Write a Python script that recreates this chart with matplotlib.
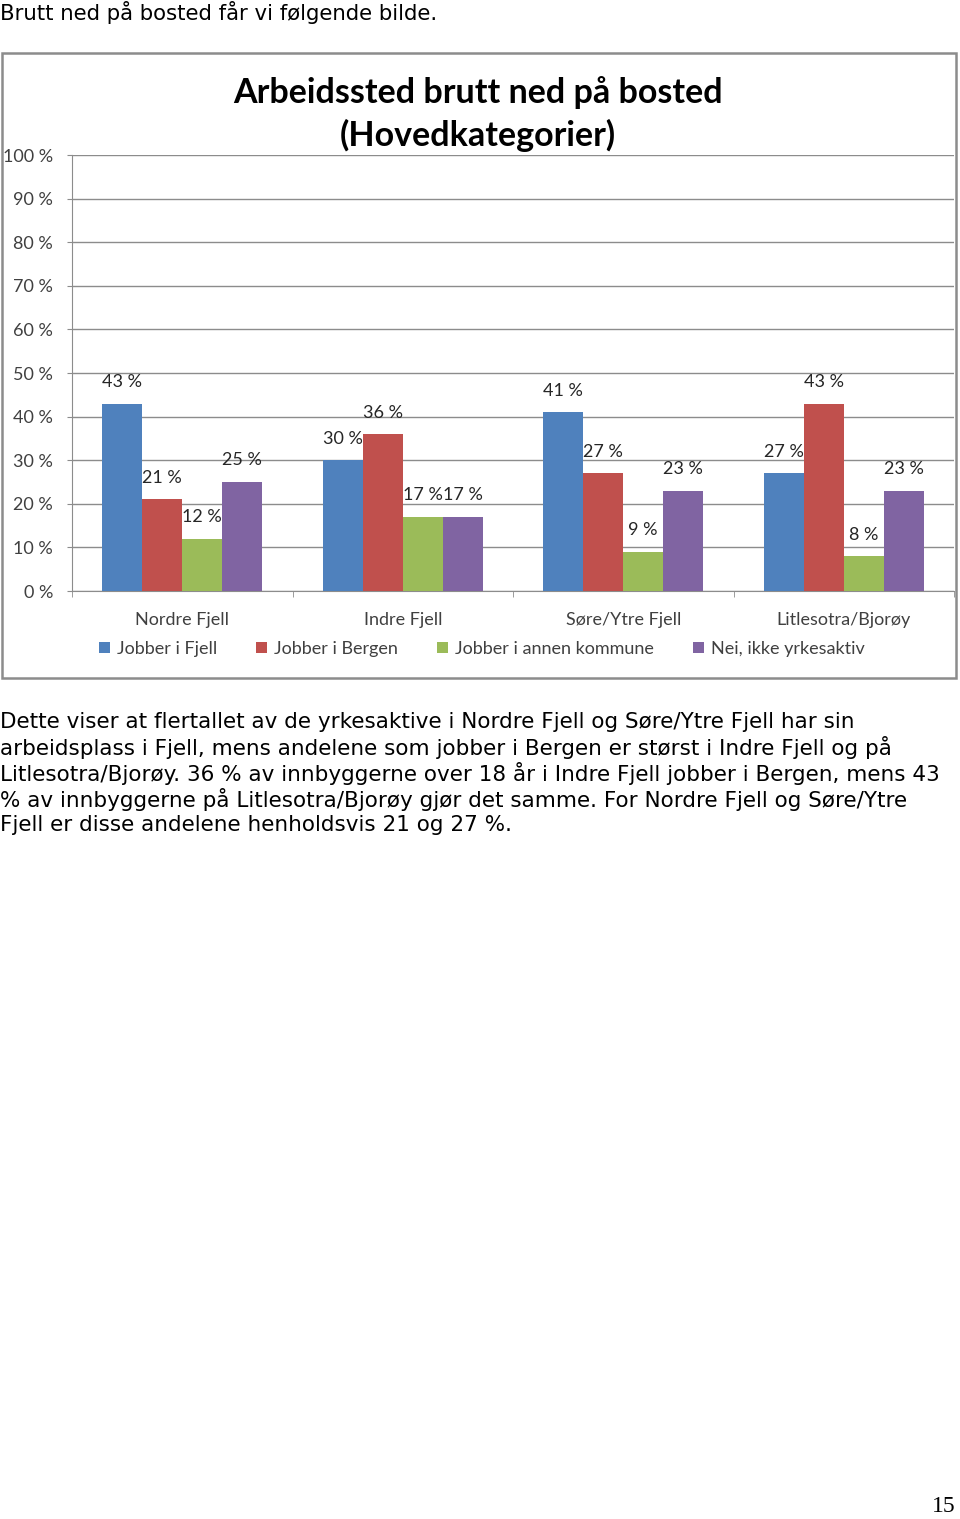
import matplotlib
matplotlib.use("Agg")
import matplotlib.pyplot as plt
from matplotlib.patches import Rectangle, Patch

W, H = 960, 1519
DPI = 100

categories = ["Nordre Fjell", "Indre Fjell", "Søre/Ytre Fjell", "Litlesotra/Bjorøy"]
series_names = ["Jobber i Fjell", "Jobber i Bergen", "Jobber i annen kommune", "Nei, ikke yrkesaktiv"]
jobber_fjell = [43, 30, 41, 27]
jobber_bergen = [21, 36, 27, 43]
jobber_annen = [12, 17, 9, 8]
ikke_yrkesaktiv = [25, 17, 23, 23]
series_values = [jobber_fjell, jobber_bergen, jobber_annen, ikke_yrkesaktiv]
colors = ["#4F81BD", "#C0504D", "#9BBB59", "#8064A2"]
yticks = [0, 10, 20, 30, 40, 50, 60, 70, 80, 90, 100]

title_lines = ["Arbeidssted brutt ned på bosted", "(Hovedkategorier)"]
intro = "Brutt ned på bosted får vi følgende bilde."
body_lines = [
    "Dette viser at flertallet av de yrkesaktive i Nordre Fjell og Søre/Ytre Fjell har sin",
    "arbeidsplass i Fjell, mens andelene som jobber i Bergen er størst i Indre Fjell og på",
    "Litlesotra/Bjorøy. 36 % av innbyggerne over 18 år i Indre Fjell jobber i Bergen, mens 43",
    "% av innbyggerne på Litlesotra/Bjorøy gjør det samme. For Nordre Fjell og Søre/Ytre",
    "Fjell er disse andelene henholdsvis 21 og 27 %.",
]
page_number = "15"


def fx(x):
    return x / W


def fy(y):
    return 1 - y / H


fig = plt.figure(figsize=(W / DPI, H / DPI), dpi=DPI, facecolor="white")

# page text
fig.text(fx(0), fy(13), intro, fontsize=15.3, family="DejaVu Sans", va="center", ha="left", color="black")
for i, line in enumerate(body_lines):
    fig.text(fx(0), fy(722 + i * 25.8), line, fontsize=15.5, family="DejaVu Sans",
             va="center", ha="left", color="black")
fig.text(fx(956), fy(1507), page_number, fontsize=17, family="Liberation Serif",
         va="center", ha="right", color="black")

# chart frame
frame = Rectangle((fx(2), fy(678)), fx(956) - fx(2), fy(53) - fy(678),
                  transform=fig.transFigure, facecolor="none",
                  edgecolor="#8C8C8C", lw=1.8, zorder=-10)
fig.patches.append(frame)

# axes
left, right, top, bottom = 72, 954, 155, 591
ax = fig.add_axes([fx(left), fy(bottom), fx(right) - fx(left), fy(top) - fy(bottom)])
ax.set_facecolor("none")

n = len(categories)
bw = 40 / ((right - left) / n)
xs = list(range(n))
for k, (vals, col, name) in enumerate(zip(series_values, colors, series_names)):
    offs = (k - 1.5) * bw
    ax.bar([x + offs for x in xs], vals, width=bw, color=col, label=name, zorder=3)
    for x, v in zip(xs, vals):
        ax.annotate(f"{v} %", (x + offs, v), xytext=(0, 15.5), textcoords="offset points",
                    ha="center", va="center", fontsize=13, family="Lato", color="#262626")

ax.set_xlim(-0.5, n - 0.5)
ax.set_ylim(0, 100)
ax.set_yticks(yticks)
ax.set_yticklabels([f"{t} %" for t in yticks], fontsize=13, family="Lato", color="#404040")
ax.grid(axis="y", color="#8C8C8C", lw=1, zorder=0)
ax.set_axisbelow(True)
ax.tick_params(axis="y", length=3.6, color="#8C8C8C", pad=10)
ax.set_xticks(xs)
ax.set_xticklabels(categories, fontsize=13, family="Lato", color="#404040")
ax.tick_params(axis="x", length=0, pad=15)
ax.set_xticks([x - 0.5 for x in range(n + 1)], minor=True)
ax.tick_params(axis="x", which="minor", length=4.5, color="#8C8C8C")
for s in ["top", "right"]:
    ax.spines[s].set_visible(False)
for s in ["left", "bottom"]:
    ax.spines[s].set_color("#8C8C8C")

for i, t in enumerate(title_lines):
    fig.text(fx(478), fy(93 + i * 42), t, fontsize=24.5, family="Lato", weight="bold",
             ha="center", va="center", color="black")

handles = [Patch(facecolor=c, edgecolor="none") for c in colors]
fig.legend(handles, series_names, loc="center", bbox_to_anchor=(fx(482), fy(649)),
           ncol=4, frameon=False, prop={"family": "Lato", "size": 13},
           handlelength=0.6, handleheight=0.6, handletextpad=0.4, columnspacing=2.15,
           labelcolor="#404040")

fig.savefig("out.png", dpi=DPI, facecolor="white")
